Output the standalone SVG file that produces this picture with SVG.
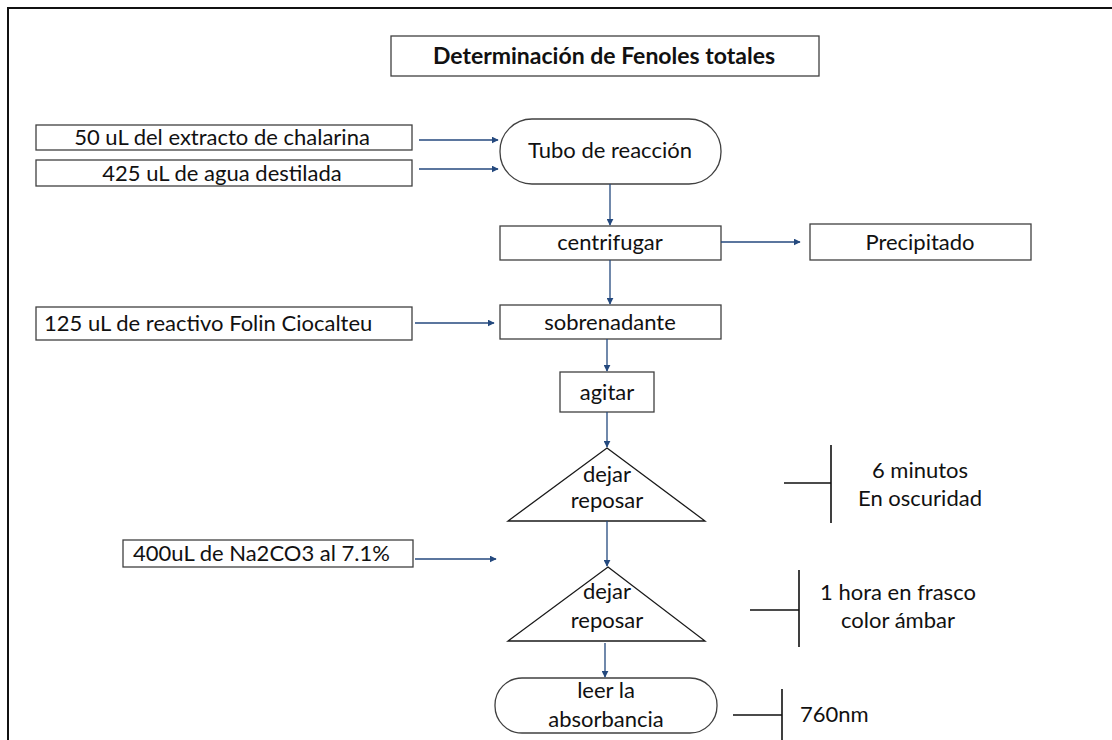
<svg xmlns="http://www.w3.org/2000/svg" width="1112" height="740" viewBox="0 0 1112 740">
<defs>
<marker id="ah" viewBox="0 0 10 10" refX="9" refY="5" markerWidth="7" markerHeight="7" markerUnits="userSpaceOnUse" orient="auto">
<path d="M0,0 L10,5 L0,10 z" fill="#24497e"/>
</marker>
</defs>
<style>
.bx{fill:#ffffff;stroke:#404040;stroke-width:1.3}
.tri{fill:#ffffff;stroke:#1a1a1a;stroke-width:1.3}
.t{font-family:Lato,"Open Sans","Liberation Sans",sans-serif;font-size:22px;fill:#111111}
.c{text-anchor:middle}
.b{font-weight:bold;font-size:23px}
.ar{stroke:#24497e;stroke-width:1.3;fill:none;marker-end:url(#ah)}
.br{stroke:#111111;stroke-width:1.6;fill:none}
</style>
<rect width="1112" height="740" fill="#ffffff"/>
<path d="M8,740 V8 H1112" fill="none" stroke="#111111" stroke-width="2"/>

<g id="title">
<rect class="bx" x="391" y="36" width="428" height="40"/>
<text class="t c b" x="604" y="64">Determinación de Fenoles totales</text>
</g>
<g id="in1">
<rect class="bx" x="36" y="125" width="376" height="25"/>
<text class="t c" x="222" y="145">50 uL del extracto de chalarina</text>
</g>
<g id="in2">
<rect class="bx" x="36" y="160" width="376" height="26"/>
<text class="t c" x="222" y="181">425 uL de agua destilada</text>
</g>
<g id="tubo">
<rect class="bx" x="500" y="119" width="221" height="65" rx="32" ry="32"/>
<text class="t c" x="610" y="158">Tubo de reacción</text>
</g>
<g id="centrifugar">
<rect class="bx" x="500" y="226" width="221" height="34"/>
<text class="t c" x="610" y="250">centrifugar</text>
</g>
<g id="precipitado">
<rect class="bx" x="810" y="224" width="221" height="36"/>
<text class="t c" x="920" y="250">Precipitado</text>
</g>
<g id="folin">
<rect class="bx" x="36" y="307" width="376" height="33"/>
<text class="t" x="44" y="331">125 uL de reactivo Folin Ciocalteu</text>
</g>
<g id="sobrenadante">
<rect class="bx" x="500" y="305" width="221" height="34"/>
<text class="t c" x="610" y="330">sobrenadante</text>
</g>
<g id="agitar">
<rect class="bx" x="560" y="372" width="94" height="40"/>
<text class="t c" x="607" y="400">agitar</text>
</g>
<g id="reposar1">
<polygon class="tri" points="607,448 705,521 508,521"/>
<text class="t c" x="607" y="482">dejar</text>
<text class="t c" x="607" y="508">reposar</text>
</g>
<g id="nota1">
<text class="t c" x="920" y="478">6 minutos</text>
<text class="t c" x="920" y="506">En oscuridad</text>
</g>
<g id="na2co3">
<rect class="bx" x="123" y="540" width="290" height="27"/>
<text class="t" x="133" y="561">400uL de Na2CO3 al 7.1%</text>
</g>
<g id="reposar2">
<polygon class="tri" points="608,567 705,641 508,641"/>
<text class="t c" x="607" y="599">dejar</text>
<text class="t c" x="607" y="628">reposar</text>
</g>
<g id="nota2">
<text class="t c" x="898" y="600">1 hora en frasco</text>
<text class="t c" x="898" y="628">color ámbar</text>
</g>
<g id="leer">
<rect class="bx" x="495" y="678" width="222" height="55" rx="27" ry="27"/>
<text class="t c" x="606" y="698">leer la</text>
<text class="t c" x="606" y="727">absorbancia</text>
</g>
<g id="nota3">
<text class="t" x="800" y="722">760nm</text>
</g>

<g id="connectors">
<line class="ar" x1="419" y1="140" x2="498" y2="140"/>
<line class="ar" x1="419" y1="169" x2="498" y2="169"/>
<line class="ar" x1="610" y1="184" x2="610" y2="225"/>
<line class="ar" x1="721" y1="242" x2="800" y2="242"/>
<line class="ar" x1="610" y1="260" x2="610" y2="304"/>
<line class="ar" x1="415" y1="323" x2="494" y2="323"/>
<line class="ar" x1="607" y1="339" x2="607" y2="371"/>
<line class="ar" x1="607" y1="412" x2="607" y2="447"/>
<line class="ar" x1="607" y1="521" x2="607" y2="566"/>
<line class="ar" x1="415" y1="559" x2="496" y2="559"/>
<line class="ar" x1="605" y1="643" x2="605" y2="677"/>
<path class="br" d="M784,483 H831 M831,445 V523"/>
<path class="br" d="M750,610 H799 M799,570 V647"/>
<path class="br" d="M733,715 H782 M782,689 V740"/>
</g>
</svg>
